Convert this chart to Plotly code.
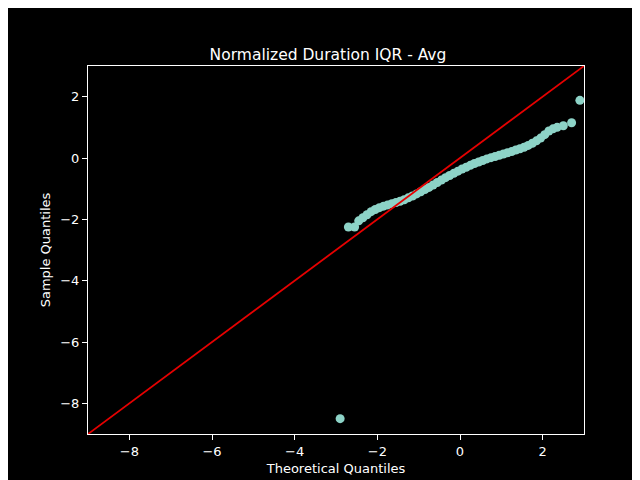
import plotly.graph_objects as go

theo = [-2.9, -2.7, -2.55, -2.45, -2.35, -2.25, -2.15, -2.05, -1.95, -1.85, -1.75, -1.65, -1.55, -1.45, -1.35, -1.25, -1.15, -1.05, -0.95, -0.85, -0.75, -0.65, -0.55, -0.45, -0.35, -0.25, -0.15, -0.05, 0.05, 0.15, 0.25, 0.35, 0.45, 0.55, 0.65, 0.75, 0.85, 0.95, 1.05, 1.15, 1.25, 1.35, 1.45, 1.55, 1.65, 1.75, 1.85, 1.95, 2.05, 2.15, 2.25, 2.35, 2.5, 2.7, 2.9]
samp = [-8.5, -2.25, -2.25, -2.05, -1.95, -1.85, -1.75, -1.68, -1.62, -1.57, -1.53, -1.49, -1.45, -1.41, -1.36, -1.3, -1.24, -1.17, -1.1, -1.03, -0.96, -0.88, -0.8, -0.72, -0.64, -0.57, -0.5, -0.43, -0.36, -0.3, -0.24, -0.18, -0.13, -0.08, -0.03, 0.01, 0.05, 0.09, 0.13, 0.17, 0.21, 0.26, 0.3, 0.35, 0.41, 0.48, 0.56, 0.65, 0.76, 0.88, 0.95, 1.0, 1.05, 1.15, 1.88]
line_x = [-9, 3]
line_y = [-9, 3]

fig = go.Figure()
fig.add_trace(go.Scatter(x=theo, y=samp, mode="markers",
                         marker=dict(color="#8dd3c7", size=9), cliponaxis=False))
fig.add_trace(go.Scatter(x=line_x, y=line_y, mode="lines",
                         line=dict(color="#e60000", width=1.8)))
ax = dict(range=[-9, 3], tickvals=[-8, -6, -4, -2, 0, 2], ticktext=["−8", "−6", "−4", "−2", "0", "2"],
          showgrid=False, zeroline=False, showline=True, linecolor="white", mirror=True,
          ticks="outside", tickcolor="white", ticklen=5, color="white", tickfont=dict(size=13),
          automargin=False)
fig.update_layout(
    width=640, height=480, paper_bgcolor="black", plot_bgcolor="black",
    margin=dict(l=80, r=64, t=58, b=54, autoexpand=False), showlegend=False,
    font=dict(family="DejaVu Sans", color="white"),
    title=dict(text="Normalized Duration IQR - Avg", x=0.5, xanchor="center", y=0.915, font=dict(size=15.5)),
    xaxis=dict(ax, title=dict(text="Theoretical Quantiles", font=dict(size=13), standoff=6)),
    yaxis=dict(ax, title=dict(text="Sample Quantiles", font=dict(size=13), standoff=6)),
)
fig.write_html("out.html")
